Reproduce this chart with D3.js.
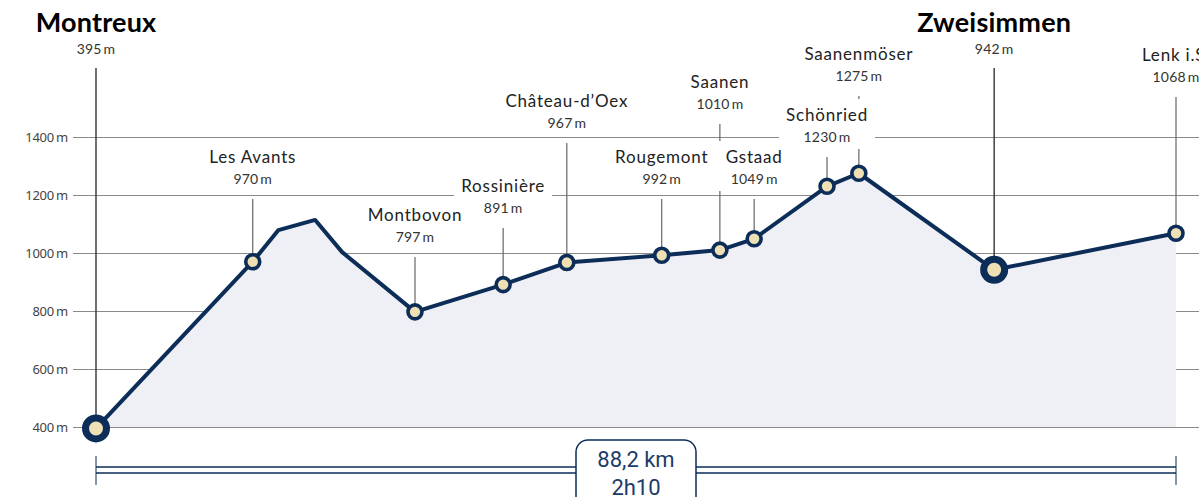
<!DOCTYPE html>
<html>
<head>
<meta charset="utf-8">
<script src="https://cdn.jsdelivr.net/npm/d3@7"></script>
<style>
  body { margin: 0; background: #fff; }
  svg { display: block; }
</style>
</head>
<body>
<svg id="chart" width="1199" height="497"></svg>
<script>
// profile of the line (km from Montreux, altitude in m)
const profileKm = [0, 12.8, 14.9, 17.9, 20.1, 26.05, 33.25, 38.45, 46.2, 50.95, 53.75, 59.7, 62.3, 73.35, 88.2]
const profileAlt = [395, 970, 1079, 1114, 1003, 797, 891, 967, 992, 1010, 1049, 1230, 1275, 942, 1068]

// stations
const stationNames = ['Montreux', 'Les Avants', 'Montbovon', 'Rossinière', 'Château-d\u2019Oex', 'Rougemont',
  'Saanen', 'Gstaad', 'Schönried', 'Saanenmöser', 'Zweisimmen', 'Lenk i.S.']
const stationKm = [0, 12.8, 26.05, 33.25, 38.45, 46.2, 50.95, 53.75, 59.7, 62.3, 73.35, 88.2]
const stationAlt = [395, 970, 797, 891, 967, 992, 1010, 1049, 1230, 1275, 942, 1068]
const majorStations = ['Montreux', 'Zweisimmen']

const altTicks = [400, 600, 800, 1000, 1200, 1400]
const totalKm = 88.2
const distanceText = '88,2 km'
const durationText = '2h10'

// layout: vertical centre of each station name label
const labelY = [23, 157, 215, 186, 101, 157, 82, 157, 115, 54, 23, 55]

const navy = '#0c2d57'
const svg = d3.select('#chart')

const x = d3.scaleLinear().domain([0, totalKm]).range([96, 1176])
const y = d3.scaleLinear().domain([400, 1400]).range([427, 137])

// grid + axis
const axis = d3.axisLeft(y)
  .tickValues(altTicks)
  .tickSize(-(1199 - 73))
  .tickPadding(5)
  .tickFormat(d => d + '\u2009m')

svg.append('g')
  .attr('transform', 'translate(73,0)')
  .call(axis)
  .call(g => g.select('.domain').remove())
  .call(g => g.selectAll('.tick line').attr('stroke', '#8a8a8a').attr('stroke-width', 1))
  .call(g => g.selectAll('.tick text')
    .attr('fill', '#444')
    .attr('font-family', 'Noto Sans, sans-serif')
    .attr('font-size', 13)
    .attr('letter-spacing', -0.2))

const stations = stationNames.map((name, i) => ({
  name,
  km: stationKm[i],
  alt: stationAlt[i],
  ly: labelY[i],
  major: majorStations.includes(name)
}))

// leader lines
svg.append('g')
  .selectAll('line')
  .data(stations)
  .join('line')
  .attr('x1', d => x(d.km))
  .attr('x2', d => x(d.km))
  .attr('y1', d => d.ly + (d.major ? 45 : 42))
  .attr('y2', d => y(d.alt))
  .attr('stroke', d => d.major ? '#333' : '#666')
  .attr('stroke-width', d => d.major ? 1.4 : 1.2)

// area + line
const profile = profileKm.map((km, i) => ({ km, alt: profileAlt[i] }))

svg.append('path')
  .datum(profile)
  .attr('fill', '#efeff6')
  .attr('d', d3.area().x(d => x(d.km)).y0(y(400)).y1(d => y(d.alt)))

svg.append('path')
  .datum(profile)
  .attr('fill', 'none')
  .attr('stroke', navy)
  .attr('stroke-width', 4)
  .attr('stroke-linejoin', 'round')
  .attr('d', d3.line().x(d => x(d.km)).y(d => y(d.alt)))

// station dots
svg.append('g')
  .selectAll('circle')
  .data(stations)
  .join('circle')
  .attr('cx', d => x(d.km))
  .attr('cy', d => y(d.alt))
  .attr('r', d => d.major ? 10.5 : 7)
  .attr('fill', '#eedfb5')
  .attr('stroke', navy)
  .attr('stroke-width', d => d.major ? 7 : 3.6)

// labels: white backings go in their own layer under all texts
const bgLayer = svg.append('g')
const textLayer = svg.append('g')

stations.forEach(d => {
  const g = textLayer.append('g').attr('transform', `translate(${x(d.km)},0)`)
  const name = g.append('text')
    .attr('y', d.ly)
    .attr('dy', '0.35em')
    .attr('text-anchor', 'middle')
    .attr('font-family', 'Lato, sans-serif')
    .attr('font-size', d.major ? 27 : 17)
    .attr('letter-spacing', d.major ? 0.2 : 0.8)
    .attr('font-weight', d.major ? 'bold' : 'normal')
    .attr('fill', d.major ? '#000' : '#222')
    .text(d.name)
  const alt = g.append('text')
    .attr('y', d.ly + (d.major ? 26 : 22))
    .attr('dy', '0.35em')
    .attr('text-anchor', 'middle')
    .attr('font-family', 'Lato, sans-serif')
    .attr('font-size', 14)
    .attr('letter-spacing', 0.2)
    .attr('fill', '#333')
    .text(d.alt + '\u2009m')
  if (!d.major) {
    const w = Math.max(name.node().getBBox().width, alt.node().getBBox().width) + 14
    bgLayer.append('rect')
      .attr('fill', '#fff')
      .attr('x', x(d.km) - w / 2).attr('width', w)
      .attr('y', d.ly - 16).attr('height', 50)
  }
})

// distance bar
const bar = svg.append('g')
bar.selectAll('line.rail')
  .data([467, 473])
  .join('line')
  .attr('class', 'rail')
  .attr('x1', x(0)).attr('x2', x(totalKm))
  .attr('y1', d => d).attr('y2', d => d)
  .attr('stroke', navy)
  .attr('stroke-width', 1.6)

bar.selectAll('line.end')
  .data([0, totalKm])
  .join('line')
  .attr('class', 'end')
  .attr('x1', d => x(d)).attr('x2', d => x(d))
  .attr('y1', 456).attr('y2', 485)
  .attr('stroke', navy)
  .attr('stroke-width', 1)

const cx = x(totalKm / 2)
bar.append('rect')
  .attr('x', cx - 60).attr('y', 440)
  .attr('width', 120).attr('height', 80)
  .attr('rx', 12)
  .attr('fill', '#fff')
  .attr('stroke', navy)
  .attr('stroke-width', 1.5)

bar.selectAll('text')
  .data([distanceText, durationText])
  .join('text')
  .attr('x', cx)
  .attr('y', (d, i) => 459 + i * 28)
  .attr('dy', '0.35em')
  .attr('text-anchor', 'middle')
  .attr('font-family', 'Roboto, sans-serif')
  .attr('font-size', 22)
  .attr('fill', '#1b3b68')
  .text(d => d)
</script>
</body>
</html>
